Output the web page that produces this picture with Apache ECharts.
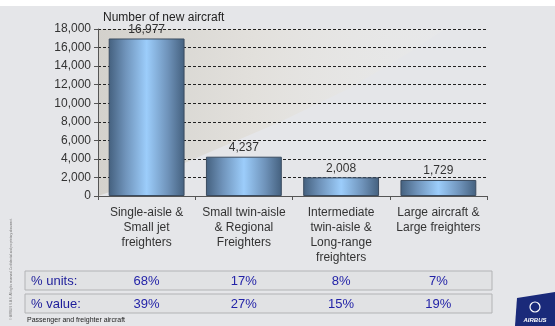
<!DOCTYPE html>
<html>
<head>
<meta charset="utf-8">
<script src="https://cdn.jsdelivr.net/npm/echarts@6/dist/echarts.min.js"></script>
<style>
  html, body { margin: 0; padding: 0; background: #e5e6e9; }
  #chart { width: 555px; height: 326px; }
</style>
</head>
<body>
<div id="chart"></div>
<script>
// Aircraft demand by segment
const categories = [
  'Single-aisle &\nSmall jet\nfreighters',
  'Small twin-aisle\n& Regional\nFreighters',
  'Intermediate\ntwin-aisle &\nLong-range\nfreighters',
  'Large aircraft &\nLarge freighters'
];
const newAircraft = [16977, 4237, 2008, 1729];
const shareUnits = ['68%', '17%', '8%', '7%'];
const shareValue = ['39%', '27%', '15%', '19%'];
const yTicks = { min: 0, max: 18000, interval: 2000 };

const FONT = 'Liberation Sans, Arial, sans-serif';
const chart = echarts.init(document.getElementById('chart'));

const barFill = new echarts.graphic.LinearGradient(0, 0, 1, 0, [
  { offset: 0, color: '#44607e' },
  { offset: 0.22, color: '#6f93ba' },
  { offset: 0.5, color: '#9ccdfb' },
  { offset: 0.78, color: '#6f93ba' },
  { offset: 1, color: '#44607e' }
]);

chart.setOption({
  backgroundColor: '#e5e6e9',
  animation: false,
  grid: { left: 98, right: 68, top: 29, bottom: 130 },
  xAxis: {
    type: 'category',
    data: categories,
    axisLine: { lineStyle: { color: '#555', width: 1 } },
    axisTick: { show: true, length: 4, lineStyle: { color: '#555' } },
    axisLabel: {
      color: '#333', fontFamily: FONT, fontSize: 12, lineHeight: 15, margin: 9,
      interval: 0
    }
  },
  yAxis: {
    type: 'value',
    min: yTicks.min, max: yTicks.max, interval: yTicks.interval,
    axisLine: { show: true, lineStyle: { color: '#555' } },
    axisTick: { show: true, length: 4, lineStyle: { color: '#555' } },
    axisLabel: {
      color: '#333', fontFamily: FONT, fontSize: 12, margin: 7,
      formatter: v => v.toLocaleString('en-US')
    },
    splitLine: { show: true, lineStyle: { color: '#222', type: [3, 2], width: 1 } }
  },
  series: [{
    type: 'bar',
    data: newAircraft,
    barCategoryGap: '22%',
    itemStyle: { color: barFill, borderColor: '#3b4c60', borderWidth: 1 },
    label: {
      show: true, position: 'top', distance: 3,
      color: '#333', fontFamily: FONT, fontSize: 12,
      formatter: p => p.value.toLocaleString('en-US')
    },
    z: 3
  }]
});

// Decorative light swoosh behind the plot, plus the share table under the axis
const xs = categories.map((c, i) => chart.convertToPixel({ xAxisIndex: 0 }, i));
const plotTop = chart.convertToPixel({ yAxisIndex: 0 }, yTicks.max);
const plotBase = chart.convertToPixel({ yAxisIndex: 0 }, 0);
const plotLeft = 98;

const elements = [
  { type: 'rect', shape: { x: 0, y: 0, width: 555, height: 6 }, style: { fill: '#ffffff' }, z: -2 },
  {
    type: 'polygon', z: -1, silent: true,
    shape: { points: [[plotLeft, plotTop], [445, plotTop], [410, 52], [350, 88], [280, 122], [210, 152], [150, 178], [plotLeft, plotBase]] },
    style: {
      fill: new echarts.graphic.LinearGradient(0, 0, 1, 0, [
        { offset: 0, color: '#d3d1cc' },
        { offset: 0.45, color: '#e2e0dc' },
        { offset: 1, color: 'rgba(235,235,233,0.3)' }
      ])
    }
  },
  {
    type: 'text', left: 103, top: 12,
    style: { text: 'Number of new aircraft', fill: '#222', font: '12px ' + FONT }
  }
];

const rows = [
  { label: '% units:', values: shareUnits, y: 271 },
  { label: '% value:', values: shareValue, y: 294 }
];
rows.forEach(r => {
  elements.push({
    type: 'rect', shape: { x: 25, y: r.y, width: 467, height: 19 },
    style: { fill: '#e1e2e4', stroke: '#b2b3b5', lineWidth: 1 }
  });
  elements.push({
    type: 'text', x: 31, y: r.y + 10,
    style: { text: r.label, fill: '#1c1c9a', font: '13px ' + FONT, verticalAlign: 'middle' }
  });
  r.values.forEach((v, i) => {
    elements.push({
      type: 'text', x: xs[i], y: r.y + 10,
      style: { text: v, fill: '#2323a8', font: '13px ' + FONT, align: 'center', verticalAlign: 'middle' }
    });
  });
});

elements.push({
  type: 'text', x: 27, y: 320,
  style: { text: 'Passenger and freighter aircraft', fill: '#222', font: '7px ' + FONT, verticalAlign: 'middle' }
});
elements.push({
  type: 'text', x: 11, y: 320, rotation: Math.PI / 2,
  style: { text: '© AIRBUS S.A.S. All rights reserved. Confidential and proprietary document.', fill: '#777', font: '3px ' + FONT, verticalAlign: 'middle' }
});

// Logo block
elements.push({
  type: 'polygon', shape: { points: [[517, 298], [555, 292], [555, 326], [515, 326]] },
  style: { fill: '#1a2a7a' }
});
elements.push({
  type: 'circle', shape: { cx: 535, cy: 307, r: 5 },
  style: { fill: 'none', stroke: '#ffffff', lineWidth: 1.2 }
});
elements.push({
  type: 'text', x: 535, y: 320,
  style: { text: 'AIRBUS', fill: '#ffffff', font: 'italic bold 6px ' + FONT, align: 'center', verticalAlign: 'middle' }
});

chart.setOption({ graphic: { elements } });
</script>
</body>
</html>
